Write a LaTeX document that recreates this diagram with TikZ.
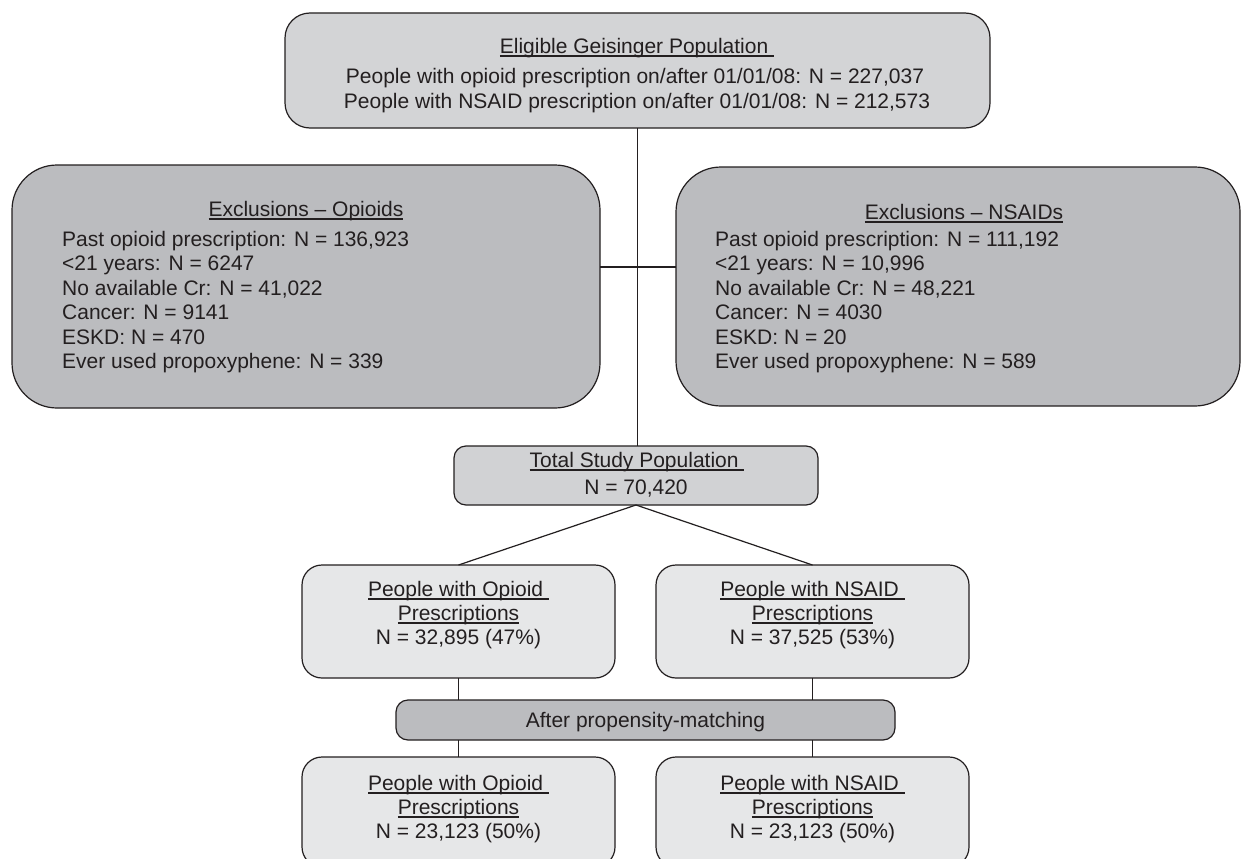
\documentclass[tikz,border=0pt]{standalone}
\usepackage{fontspec}
\setmainfont{Liberation Sans}
\newcommand\myul[1]{\setbox0\hbox{#1}\rlap{\rule[-3.5pt]{\wd0}{1.1pt}}\box0}
\definecolor{topfill}{HTML}{D3D4D6}
\definecolor{exfill}{HTML}{BBBCBF}
\definecolor{totfill}{HTML}{D1D2D4}
\definecolor{grpfill}{HTML}{E6E7E8}
\definecolor{matchfill}{HTML}{BBBCBF}
\definecolor{ink}{HTML}{231F20}
\begin{document}
\begin{tikzpicture}[x=1pt,y=-1pt,
  box/.style={draw=ink, line width=1.2pt, inner sep=0pt, outer sep=0pt},
  txt/.style={inner sep=0pt, text=ink, font=\fontsize{21}{24}\selectfont, anchor=base},
  ltxt/.style={txt, anchor=base west},
  link/.style={draw=ink, line width=1.2pt}]
\useasboundingbox (0,0) rectangle (1250,859);
\clip (0,0) rectangle (1250,859);
\fill[white] (0,0) rectangle (1250,859);
% boxes
\node[box, fill=topfill, rounded corners=25pt, minimum width=705pt, minimum height=115pt] (top) at (637.5,70.5) {};
\node[box, fill=exfill, rounded corners=45pt, minimum width=588pt, minimum height=243pt] (exL) at (306,286.5) {};
\node[box, fill=exfill, rounded corners=45pt, minimum width=564pt, minimum height=239pt] (exR) at (958,286.5) {};
\node[box, fill=totfill, rounded corners=12pt, minimum width=364pt, minimum height=59pt] (tot) at (636,475.5) {};
\node[box, fill=grpfill, rounded corners=20pt, minimum width=313pt, minimum height=113pt] (gO) at (458.5,621.5) {};
\node[box, fill=grpfill, rounded corners=20pt, minimum width=313pt, minimum height=113pt] (gN) at (812.5,621.5) {};
\node[box, fill=matchfill, rounded corners=12pt, minimum width=499pt, minimum height=40pt] (match) at (645.5,720) {};
\node[box, fill=grpfill, rounded corners=20pt, minimum width=313pt, minimum height=110pt] (bO) at (458.5,812) {};
\node[box, fill=grpfill, rounded corners=20pt, minimum width=313pt, minimum height=110pt] (bN) at (812.5,812) {};
% connectors
\coordinate (hc) at (637,267);
\draw[link] (top.south) -- (top.south |- tot.north);
\draw[link] (exL.east |- hc) -- (exR.west |- hc);
\draw[link] (tot.south) -- (gO.north);
\draw[link] (tot.south) -- (gN.north);
\draw[link] (gO.south) -- (gO.south |- match.north);
\draw[link] (gN.south) -- (gN.south |- match.north);
\draw[link] (gO.south |- match.south) -- (bO.north);
\draw[link] (gN.south |- match.south) -- (bN.north);
% top box texts
\node[txt] (topT) at (637,53) {\myul{Eligible Geisinger Population~}};
\node[txt] (topL1) at (635,83) {People with opioid prescription on/after 01/01/08: N = 227,037};
\node[txt] (topL2) at (637,108) {People with NSAID prescription on/after 01/01/08: N = 212,573};
% left exclusions
\node[txt] (exLT) at (306,216) {\myul{Exclusions -- Opioids}};
\node[ltxt] (exL1) at (62,246) {Past opioid prescription: N = 136,923};
\node[ltxt] (exL2) at (62,270.5) {<21 years: N = 6247};
\node[ltxt] (exL3) at (62,295) {No available Cr: N = 41,022};
\node[ltxt] (exL4) at (62,319.5) {Cancer: N = 9141};
\node[ltxt] (exL5) at (62,344) {ESKD: N = 470};
\node[ltxt] (exL6) at (62,368.5) {Ever used propoxyphene: N = 339};
% right exclusions
\node[txt] (exRT) at (964,219) {\myul{Exclusions -- NSAIDs}};
\node[ltxt] (exR1) at (715,246) {Past opioid prescription: N = 111,192};
\node[ltxt] (exR2) at (715,270.5) {<21 years: N = 10,996};
\node[ltxt] (exR3) at (715,295) {No available Cr: N = 48,221};
\node[ltxt] (exR4) at (715,319.5) {Cancer: N = 4030};
\node[ltxt] (exR5) at (715,344) {ESKD: N = 20};
\node[ltxt] (exR6) at (715,368.5) {Ever used propoxyphene: N = 589};
% total
\node[txt] (totT) at (637,467) {\myul{Total Study Population~}};
\node[txt] (totN) at (636,494) {N = 70,420};
% groups
\node[txt] (gO1) at (458.5,596) {\myul{People with Opioid~}};
\node[txt] (gO2) at (458.5,620) {\myul{Prescriptions}};
\node[txt] (gO3) at (458.5,644) {N = 32,895 (47\%)};
\node[txt] (gN1) at (812.5,596) {\myul{People with NSAID~}};
\node[txt] (gN2) at (812.5,620) {\myul{Prescriptions}};
\node[txt] (gN3) at (812.5,644) {N = 37,525 (53\%)};
% matching
\node[txt] (matchT) at (645.5,727.5) {After propensity-matching};
% bottom groups
\node[txt] (bO1) at (458.5,790) {\myul{People with Opioid~}};
\node[txt] (bO2) at (458.5,814) {\myul{Prescriptions}};
\node[txt] (bO3) at (458.5,838) {N = 23,123 (50\%)};
\node[txt] (bN1) at (812.5,790) {\myul{People with NSAID~}};
\node[txt] (bN2) at (812.5,814) {\myul{Prescriptions}};
\node[txt] (bN3) at (812.5,838) {N = 23,123 (50\%)};
\end{tikzpicture}
\end{document}
